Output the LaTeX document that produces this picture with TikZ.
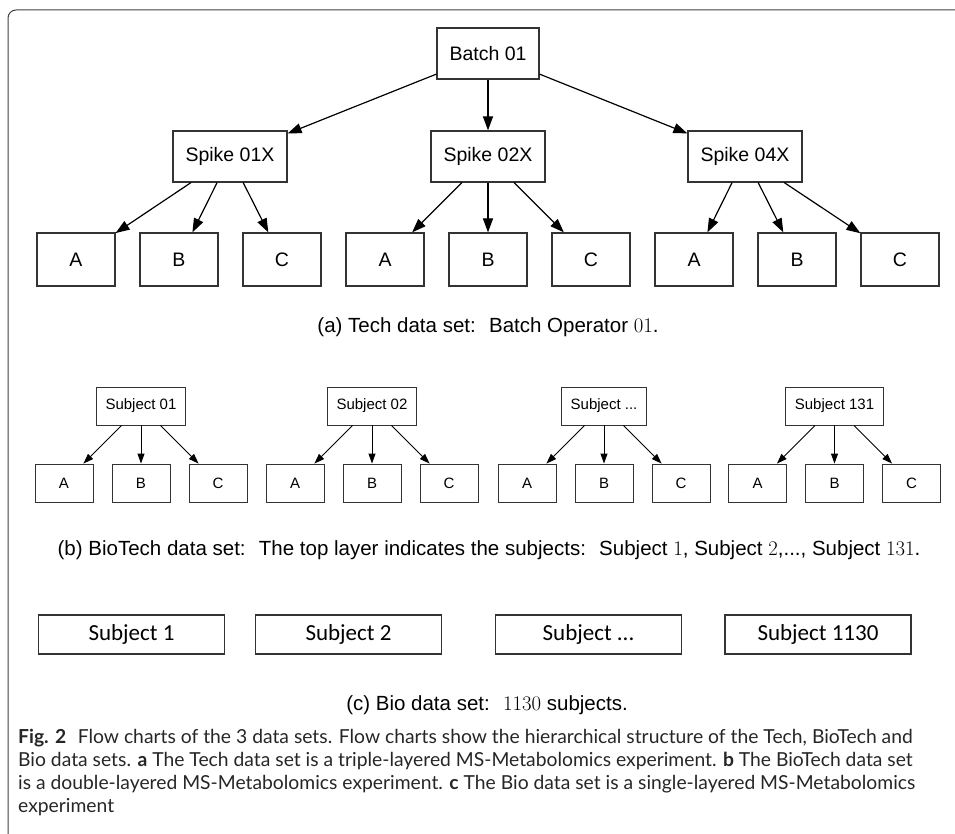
\documentclass[tikz,border=0pt]{standalone}
\usepackage{fontspec}
\setmainfont{Liberation Sans}
\newfontfamily\subjfont{Carlito}
\newfontfamily\capfont{Lato}
\usetikzlibrary{positioning, arrows.meta}

\begin{document}
\begin{tikzpicture}[
    x=1pt, y=-1pt,
    box/.style={draw=black!80, line width=1.2pt, rectangle, minimum height=51pt, inner sep=0pt, align=center, font=\fontsize{19.5}{22}\selectfont},
    leaf/.style={box, minimum width=78pt, minimum height=53pt},
    small box/.style={draw=black!80, line width=0.9pt, rectangle, minimum height=38pt, inner xsep=9pt, inner ysep=0pt, font=\fontsize{15}{17}\selectfont},
    small leaf/.style={small box, minimum width=58pt, inner xsep=0pt},
    subject/.style={draw=black!80, line width=1.2pt, rectangle, minimum width=186pt, minimum height=39pt, inner sep=0pt, font=\subjfont\fontsize{23}{26}\selectfont},
    arrow/.style={-{Triangle[length=14pt, width=10pt]}, line width=1.2pt},
    small arrow/.style={-{Triangle[length=10pt, width=7pt]}, line width=0.9pt},
    caption/.style={font=\fontsize{20.5}{24}\selectfont, inner sep=0pt},
    figcap/.style={anchor=base west, inner sep=0pt, text=black!85, font=\capfont\fontsize{19.3}{23}\selectfont}
]
    \useasboundingbox (0,0) rectangle (955,834);

    % ================= FRAME =================
    \draw[black!75, line width=1pt, rounded corners=8pt] (955,10) -- (8,10) -- (8,834);

    % ================= (a) TECH DATA SET =================
    \node[box, minimum width=102pt] (BATCH) at (488, 53.5) {Batch 01};

    \node[box, minimum width=114pt] (SP1) at (230, 156.5) {Spike 01X};
    \node[box, minimum width=114pt] (SP2) at (488, 156.5) {Spike 02X};
    \node[box, minimum width=114pt] (SP4) at (745, 156.5) {Spike 04X};

    \node[leaf] (SP1A) at (76, 259.5) {A};
    \node[leaf] (SP1B) at (179, 259.5) {B};
    \node[leaf] (SP1C) at (282, 259.5) {C};
    \node[leaf] (SP2A) at (385, 259.5) {A};
    \node[leaf] (SP2B) at (488, 259.5) {B};
    \node[leaf] (SP2C) at (591, 259.5) {C};
    \node[leaf] (SP4A) at (694, 259.5) {A};
    \node[leaf] (SP4B) at (797, 259.5) {B};
    \node[leaf] (SP4C) at (900, 259.5) {C};

    \draw[arrow] (BATCH) -- (SP1);
    \draw[arrow] (BATCH) -- (SP2);
    \draw[arrow] (BATCH) -- (SP4);

    \draw[arrow] (SP1) -- (SP1A);
    \draw[arrow] (SP1) -- (SP1B);
    \draw[arrow] (SP1) -- (SP1C);
    \draw[arrow] (SP2) -- (SP2A);
    \draw[arrow] (SP2) -- (SP2B);
    \draw[arrow] (SP2) -- (SP2C);
    \draw[arrow] (SP4) -- (SP4A);
    \draw[arrow] (SP4) -- (SP4B);
    \draw[arrow] (SP4) -- (SP4C);

    \node[caption] (CAPA) at (488, 327) {(a) Tech data set: \ Batch Operator $01$.};

    % ================= (b) BIOTECH DATA SET =================
    \node[small box] (SUB1) at (141, 406) {Subject 01};
    \node[small box] (SUB2) at (372, 406) {Subject 02};
    \node[small box] (SUBX) at (604, 406) {Subject ...};
    \node[small box] (SUB131) at (834.5, 406) {Subject 131};

    \node[small leaf] (SUB1A) at (64, 483) {A};
    \node[small leaf] (SUB1B) at (141, 483) {B};
    \node[small leaf] (SUB1C) at (218, 483) {C};
    \node[small leaf] (SUB2A) at (295, 483) {A};
    \node[small leaf] (SUB2B) at (372, 483) {B};
    \node[small leaf] (SUB2C) at (449, 483) {C};
    \node[small leaf] (SUBXA) at (527, 483) {A};
    \node[small leaf] (SUBXB) at (604, 483) {B};
    \node[small leaf] (SUBXC) at (681, 483) {C};
    \node[small leaf] (SUB131A) at (757.5, 483) {A};
    \node[small leaf] (SUB131B) at (834.5, 483) {B};
    \node[small leaf] (SUB131C) at (911.5, 483) {C};

    \draw[small arrow] (SUB1) -- (SUB1A);
    \draw[small arrow] (SUB1) -- (SUB1B);
    \draw[small arrow] (SUB1) -- (SUB1C);
    \draw[small arrow] (SUB2) -- (SUB2A);
    \draw[small arrow] (SUB2) -- (SUB2B);
    \draw[small arrow] (SUB2) -- (SUB2C);
    \draw[small arrow] (SUBX) -- (SUBXA);
    \draw[small arrow] (SUBX) -- (SUBXB);
    \draw[small arrow] (SUBX) -- (SUBXC);
    \draw[small arrow] (SUB131) -- (SUB131A);
    \draw[small arrow] (SUB131) -- (SUB131B);
    \draw[small arrow] (SUB131) -- (SUB131C);

    \node[caption] (CAPB) at (489, 550) {(b) BioTech data set: \ The top layer indicates the subjects: \ Subject $1$, Subject $2$,..., Subject $131$.};

    % ================= (c) BIO DATA SET =================
    \node[subject] (BIO1) at (131.5, 634.5) {Subject 1};
    \node[subject] (BIO2) at (348.5, 634.5) {Subject 2};
    \node[subject] (BIOX) at (588.5, 634.5) {Subject ...};
    \node[subject] (BIO1130) at (818, 634.5) {Subject 1130};

    \node[caption] (CAPC) at (487, 705) {(c) Bio data set: \ $1130$ subjects.};

    % ================= FIGURE CAPTION =================
    \node[figcap] (FIG1) at (18, 743) {\textbf{Fig. 2}\hspace{0.6em}Flow charts of the 3 data sets. Flow charts show the hierarchical structure of the Tech, BioTech and};
    \node[figcap] (FIG2) at (18, 766) {Bio data sets. \textbf{a} The Tech data set is a triple-layered MS-Metabolomics experiment. \textbf{b} The BioTech data set};
    \node[figcap] (FIG3) at (18, 789) {is a double-layered MS-Metabolomics experiment. \textbf{c} The Bio data set is a single-layered MS-Metabolomics};
    \node[figcap] (FIG4) at (18, 812) {experiment};

\end{tikzpicture}
\end{document}
